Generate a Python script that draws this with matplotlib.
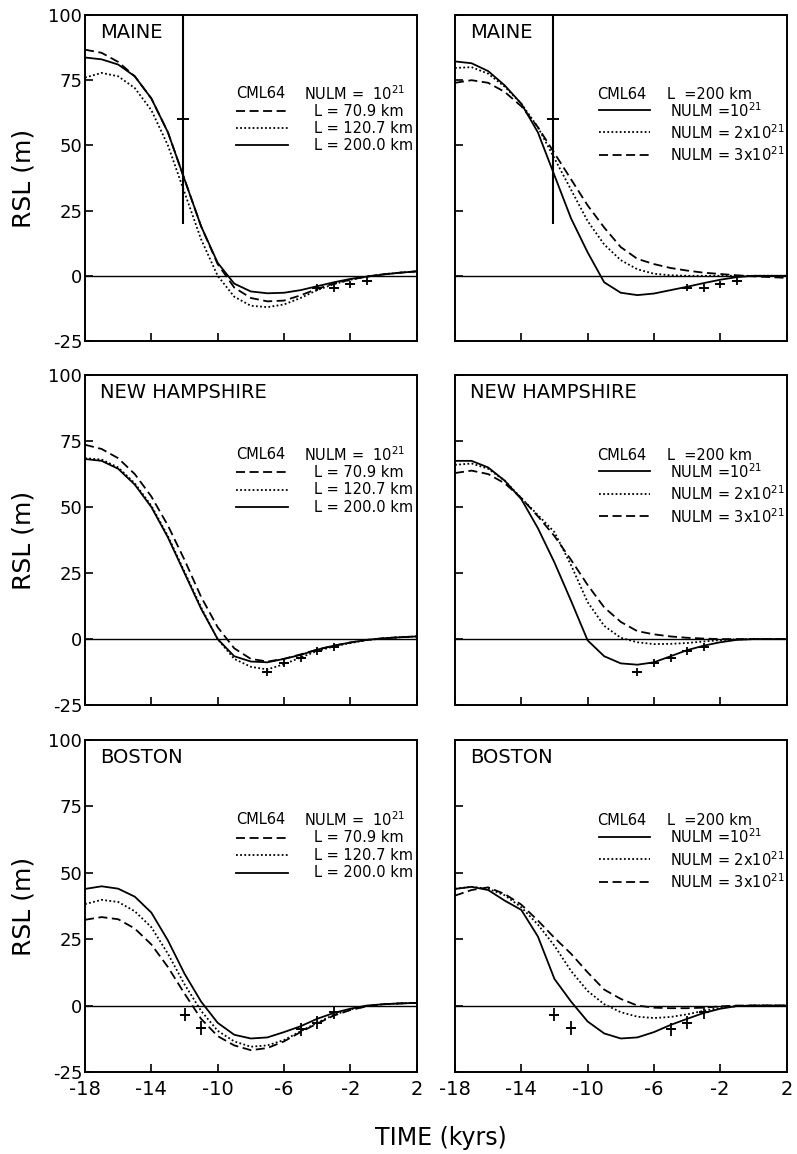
import matplotlib.pyplot as plt
import numpy as np

plt.rcParams['font.family'] = 'DejaVu Sans'
plt.rcParams['axes.unicode_minus'] = False

# time axis in kyrs, one value per kyr
time = list(range(-18, 3))

# ---- MAINE ----
# left: NULM = 1e21, lithosphere thickness varies
me_l709 = [86.7, 85.5, 82, 76.5, 68, 55, 37, 19, 4.5, -4.5, -8.5, -9.8, -9.5, -7.5, -5, -3, -1.5, -0.3, 0.6, 1.2, 1.7]
me_l1207 = [76, 77.8, 76.5, 72, 63.5, 50, 32, 14, 0, -8, -11.5, -12, -11, -8.5, -5.5, -3.2, -1.5, -0.3, 0.6, 1.2, 1.7]
me_l200 = [83.7, 83, 81, 76.5, 68, 55, 37, 19, 5, -3, -6, -6.7, -6.5, -5.5, -4, -2.5, -1.2, -0.3, 0.5, 1.2, 1.7]
# right: L = 200 km, lower mantle viscosity varies
me_n1 = [82.2, 81.5, 78.5, 73, 66, 55, 38.5, 22, 9, -2.5, -6.5, -7.4, -6.8, -5.5, -4.2, -2.8, -1.5, -0.5, 0, 0, 0]
me_n2 = [79.7, 80, 77.5, 72.5, 66, 57, 45, 33, 21, 12, 6, 2.5, 0.8, 0.2, 0, 0, 0, 0, 0, 0, 0]
me_n3 = [74, 75, 74, 70.5, 65, 57, 47, 37, 27, 18.5, 11, 6.5, 4.5, 3, 2, 1.2, 0.7, 0.2, -0.2, -0.5, -0.8]
me_obs_t = [-4, -3, -2, -1]
me_obs_rsl = [-4.5, -4.6, -3.3, -2.0]
me_big_t, me_big_rsl, me_big_err = -12.1, 60, 40

# ---- NEW HAMPSHIRE ----
nh_l709 = [73.6, 72, 68.5, 62.5, 54, 43, 30, 16, 4.5, -3.5, -7.5, -8.5, -7.5, -5.8, -4, -2.5, -1.3, -0.3, 0.3, 0.7, 1]
nh_l1207 = [68.5, 68, 65, 59, 50.5, 39, 25.5, 12, 0, -7.5, -10.5, -11.5, -9.5, -7, -4.5, -2.8, -1.5, -0.4, 0.3, 0.7, 1]
nh_l200 = [68.2, 67.5, 64.5, 58.5, 50, 38.5, 25, 11.5, 0, -6.5, -8.5, -8.8, -7.5, -6, -4, -2.5, -1.3, -0.3, 0.3, 0.7, 1]
nh_n1 = [67.5, 67.5, 65, 60, 53, 42, 29, 14.5, -0.5, -6.5, -9.2, -9.7, -8.8, -6.5, -4.2, -2.5, -1.2, -0.3, 0, 0, 0]
nh_n2 = [66, 66.5, 64.5, 60, 53.4, 47, 40.5, 28, 14, 5, 0.5, -1.2, -1.9, -1.8, -1.5, -0.9, -0.4, -0.1, 0, 0, 0]
nh_n3 = [62.9, 63.8, 62.5, 59, 53.4, 46.5, 39, 30, 20.5, 12, 6.5, 3, 1.8, 1, 0.5, 0.2, 0, 0, 0, 0, 0]
nh_obs_t = [-7, -6, -5, -4, -3]
nh_obs_rsl = [-12.5, -9, -7.2, -4.5, -3]

# ---- BOSTON ----
bo_l709 = [32.3, 33.3, 32.5, 29, 23, 14.5, 4.5, -5, -11.5, -15, -16.8, -16, -13.5, -10, -6.8, -3.8, -1.7, -0.3, 0.5, 0.8, 1]
bo_l1207 = [38.2, 39.8, 39, 35.5, 29.5, 19.5, 8, -2, -9.5, -13.5, -15.5, -15, -13, -9.7, -6.5, -3.5, -1.5, -0.2, 0.5, 0.8, 1]
bo_l200 = [43.9, 44.9, 44, 41, 35, 24.5, 12, 1.5, -6.5, -11, -12.4, -12, -10, -7.8, -5, -2.8, -1.2, 0, 0.5, 0.8, 1]
bo_n1 = [43.9, 44.7, 43.5, 39.5, 36, 26, 10, 1.5, -6, -10.5, -12.4, -12, -10, -7.3, -5, -2.8, -1.2, -0.2, 0, 0, 0]
bo_n2 = [44, 44.7, 44, 41.5, 37, 30.5, 22.5, 13, 5.5, 0.5, -2.5, -4.2, -4.7, -4.3, -3.3, -2, -0.8, -0.2, 0, 0, 0]
bo_n3 = [41.4, 43.5, 44.5, 42, 38, 32, 25.5, 19.5, 12.5, 6, 2.5, 0, -0.8, -1, -1, -0.8, -0.3, 0, 0, 0, 0]
bo_obs_t = [-12, -11, -5, -4, -3]
bo_obs_rsl = [-3.5, -8.5, -9, -6.5, -2.5]

sites = ['MAINE', 'NEW HAMPSHIRE', 'BOSTON']
left_curves = [(me_l709, me_l1207, me_l200), (nh_l709, nh_l1207, nh_l200), (bo_l709, bo_l1207, bo_l200)]
right_curves = [(me_n1, me_n2, me_n3), (nh_n1, nh_n2, nh_n3), (bo_n1, bo_n2, bo_n3)]
obs = [(me_obs_t, me_obs_rsl, 1.5), (nh_obs_t, nh_obs_rsl, 1.5), (bo_obs_t, bo_obs_rsl, 2.5)]

xticks = [-18, -14, -10, -6, -2, 2]
xticklabels = ['-18', '-14', '-10', '-6', '-2', '2']
yticks = [100, 75, 50, 25, 0, -25]
yticklabels = ['100', '75', '50', '25', '0', '-25']

DASH = (0, (5, 2.5))
DOT = (0, (1, 1.3))
lw = 1.3

fig = plt.figure(figsize=(7.97, 11.54), dpi=100)
col_x = [0.1067, 0.5709]
row_y = [0.7045, 0.389, 0.0711]
row_h = [0.2825, 0.286, 0.2877]


def legend_row(ax, x0, x1, y, ls, label, xt):
    ax.plot([x0, x1], [y, y], color='k', lw=lw, ls=ls, transform=ax.transAxes)
    ax.text(xt, y, label, transform=ax.transAxes, fontsize=10.5, va='center')


for r in range(3):
    for c in range(2):
        ax = fig.add_axes([col_x[c], row_y[r], 0.416, row_h[r]])
        ax.set_xlim(-18, 2)
        ax.set_ylim(-25, 100)
        ax.axhline(0, color='k', lw=1.0)
        if c == 0:
            d, o, s = left_curves[r]
            ax.plot(time, d, color='k', lw=lw, ls=DASH)
            ax.plot(time, o, color='k', lw=lw, ls=DOT)
            ax.plot(time, s, color='k', lw=lw)
        else:
            s, o, d = right_curves[r]
            ax.plot(time, s, color='k', lw=lw)
            ax.plot(time, o, color='k', lw=lw, ls=DOT)
            ax.plot(time, d, color='k', lw=lw, ls=DASH)

        # observations
        t_obs, rsl_obs, err = obs[r]
        ax.errorbar(t_obs, rsl_obs, yerr=err, fmt='k_', ms=7, mew=1.4,
                    elinewidth=1.3, capsize=0)
        if r == 0:
            ax.errorbar([me_big_t], [me_big_rsl], yerr=me_big_err, fmt='k_',
                        ms=8, mew=1.4, elinewidth=1.5, capsize=0)

        ax.text(0.045, 0.947, sites[r], transform=ax.transAxes, fontsize=14,
                va='center', ha='left')

        # hand-drawn style legend
        if c == 0:
            ax.text(0.455, 0.76, 'CML64', transform=ax.transAxes, fontsize=10.5, va='center')
            ax.text(0.66, 0.76, 'NULM =  10$^{21}$', transform=ax.transAxes, fontsize=10.5, va='center')
            legend_row(ax, 0.455, 0.612, 0.705, DASH, 'L = 70.9 km', 0.69)
            legend_row(ax, 0.455, 0.612, 0.652, DOT, 'L = 120.7 km', 0.69)
            legend_row(ax, 0.455, 0.612, 0.600, '-', 'L = 200.0 km', 0.69)
        else:
            ax.text(0.43, 0.757, 'CML64', transform=ax.transAxes, fontsize=10.5, va='center')
            ax.text(0.64, 0.757, 'L  =200 km', transform=ax.transAxes, fontsize=10.5, va='center')
            legend_row(ax, 0.433, 0.588, 0.708, '-', 'NULM =10$^{21}$', 0.648)
            legend_row(ax, 0.433, 0.588, 0.640, DOT, 'NULM = 2x10$^{21}$', 0.648)
            legend_row(ax, 0.433, 0.588, 0.572, DASH, 'NULM = 3x10$^{21}$', 0.648)

        ax.set_xticks(xticks)
        ax.set_yticks(yticks)
        ax.tick_params(direction='in', length=6, width=1.2, top=False, right=False)
        ax.tick_params(axis='x', pad=6)
        ax.tick_params(axis='y', pad=2)
        if r == 2:
            ax.set_xticklabels(xticklabels, fontsize=14)
        else:
            ax.set_xticklabels([])
        if c == 0:
            ax.set_yticklabels(yticklabels, fontsize=13)
            ax.set_ylabel('RSL (m)', fontsize=18)
            ax.yaxis.set_label_coords(-0.15, 0.5)
        else:
            ax.set_yticklabels([])
        for sp in ax.spines.values():
            sp.set_linewidth(1.4)

fig.text(0.553, 0.0135, 'TIME (kyrs)', fontsize=17, ha='center', va='center')
fig.savefig('out.png', dpi=100)
